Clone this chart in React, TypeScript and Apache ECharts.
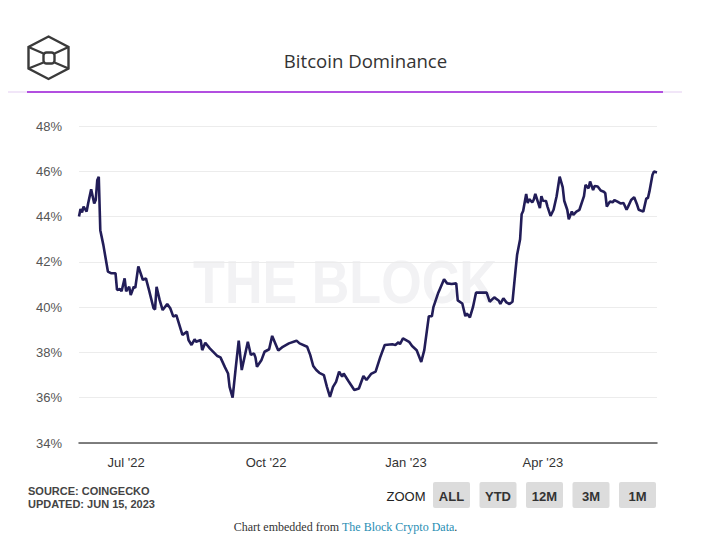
import React, { useEffect, useRef } from "react";
import * as echarts from "echarts";

const chartTitle = "Bitcoin Dominance";

const dates = [
  "2022-05-31", "2022-06-01", "2022-06-02", "2022-06-03", "2022-06-05", "2022-06-06", "2022-06-08", "2022-06-10",
  "2022-06-11", "2022-06-12", "2022-06-13", "2022-06-14", "2022-06-16", "2022-06-19", "2022-06-21", "2022-06-24",
  "2022-06-25", "2022-06-27", "2022-06-28", "2022-06-30", "2022-07-01", "2022-07-03", "2022-07-04", "2022-07-06",
  "2022-07-07", "2022-07-09", "2022-07-12", "2022-07-14", "2022-07-16", "2022-07-19", "2022-07-20", "2022-07-21",
  "2022-07-23", "2022-07-25", "2022-07-28", "2022-07-30", "2022-08-01", "2022-08-03", "2022-08-07", "2022-08-10",
  "2022-08-11", "2022-08-13", "2022-08-15", "2022-08-16", "2022-08-19", "2022-08-20", "2022-08-22", "2022-08-25",
  "2022-08-30", "2022-09-01", "2022-09-04", "2022-09-06", "2022-09-07", "2022-09-09", "2022-09-11", "2022-09-13",
  "2022-09-15", "2022-09-19", "2022-09-21", "2022-09-23", "2022-09-24", "2022-09-25", "2022-09-28", "2022-09-30",
  "2022-10-03", "2022-10-05", "2022-10-09", "2022-10-12", "2022-10-16", "2022-10-21", "2022-10-23", "2022-10-28",
  "2022-10-30", "2022-11-01", "2022-11-03", "2022-11-05", "2022-11-08", "2022-11-10", "2022-11-12", "2022-11-14",
  "2022-11-16", "2022-11-18", "2022-11-20", "2022-11-21", "2022-11-24", "2022-11-28", "2022-12-01", "2022-12-04",
  "2022-12-06", "2022-12-09", "2022-12-12", "2022-12-15", "2022-12-18", "2022-12-23", "2022-12-25", "2022-12-27",
  "2022-12-28", "2022-12-30", "2023-01-03", "2023-01-05", "2023-01-08", "2023-01-11", "2023-01-13", "2023-01-16",
  "2023-01-18", "2023-01-19", "2023-01-22", "2023-01-23", "2023-01-26", "2023-01-28", "2023-01-31", "2023-02-03",
  "2023-02-04", "2023-02-07", "2023-02-09", "2023-02-10", "2023-02-12", "2023-02-14", "2023-02-16", "2023-02-23",
  "2023-02-25", "2023-02-28", "2023-03-03", "2023-03-04", "2023-03-06", "2023-03-08", "2023-03-10", "2023-03-12",
  "2023-03-14", "2023-03-15", "2023-03-17", "2023-03-18", "2023-03-19", "2023-03-21", "2023-03-22", "2023-03-23",
  "2023-03-25", "2023-03-26", "2023-03-27", "2023-03-30", "2023-03-31", "2023-04-01", "2023-04-03", "2023-04-04",
  "2023-04-06", "2023-04-08", "2023-04-10", "2023-04-12", "2023-04-14", "2023-04-15", "2023-04-17", "2023-04-18",
  "2023-04-20", "2023-04-21", "2023-04-23", "2023-04-25", "2023-04-28", "2023-04-29", "2023-05-01", "2023-05-02",
  "2023-05-04", "2023-05-05", "2023-05-07", "2023-05-09", "2023-05-11", "2023-05-12", "2023-05-13", "2023-05-15",
  "2023-05-17", "2023-05-18", "2023-05-20", "2023-05-22", "2023-05-24", "2023-05-26", "2023-05-27", "2023-05-29",
  "2023-05-31", "2023-06-02", "2023-06-03", "2023-06-06", "2023-06-08", "2023-06-09", "2023-06-10", "2023-06-12",
  "2023-06-13", "2023-06-15",
];

const dominance = [
  44.0, 44.33, 44.18, 44.44, 44.22, 44.58, 45.2, 44.58,
  44.73, 45.6, 45.76, 43.4, 42.75, 41.57, 41.5, 41.5,
  40.76, 40.8, 40.7, 41.27, 40.7, 40.9, 40.53, 40.9,
  40.85, 41.8, 41.2, 41.27, 40.76, 39.95, 39.9, 40.9,
  40.32, 39.87, 40.14, 39.95, 39.58, 39.65, 38.77, 38.92,
  38.55, 38.33, 38.58, 38.47, 38.55, 38.1, 38.43, 38.18,
  37.84, 37.78, 37.34, 37.07, 36.48, 36.0, 37.3, 38.52,
  37.22, 38.47, 37.89, 37.96, 37.78, 37.37, 37.67, 38.03,
  38.14, 38.73, 38.08, 38.25, 38.4, 38.52, 38.4, 38.25,
  37.89, 37.4, 37.22, 37.1, 37.0, 36.48, 36.04, 36.48,
  36.7, 37.15, 36.93, 37.07, 36.75, 36.34, 36.41, 36.96,
  36.78, 37.05, 37.15, 37.78, 38.33, 38.36, 38.33, 38.45,
  38.36, 38.62, 38.47, 38.28, 38.1, 37.58, 38.1, 39.6,
  39.6, 40.0, 40.6, 40.76, 41.23, 41.05, 41.02, 41.05,
  40.3, 40.16, 39.6, 39.72, 39.55, 40.0, 40.64, 40.64,
  40.24, 40.43, 40.28, 40.14, 40.39, 40.21, 40.14, 40.24,
  41.64, 42.3, 43.0, 44.1, 44.25, 45.0, 44.6, 44.77,
  44.63, 44.75, 45.0, 44.37, 44.9, 44.7, 44.69, 44.44,
  44.03, 44.3, 44.9, 45.76, 45.3, 44.7, 44.3, 43.88,
  44.22, 44.07, 44.22, 44.3, 44.9, 45.4, 45.25, 45.55,
  45.17, 45.35, 45.33, 45.15, 45.1, 45.03, 44.44, 44.66,
  44.63, 44.73, 44.66, 44.58, 44.6, 44.3, 44.44, 44.73,
  44.85, 44.51, 44.3, 44.22, 44.81, 44.81, 45.1, 45.84,
  45.99, 45.95,
];

const xStart = "2022-05-31";
const xEnd = "2023-06-15";
const xTickDates = ["2022-07-01", "2022-10-01", "2023-01-01", "2023-04-01"];
const xTickLabels = ["Jul '22", "Oct '22", "Jan '23", "Apr '23"];
const yMin = 34;
const yMax = 48;
const yStep = 2;

const zoomLabel = "ZOOM";
const zoomButtons = ["ALL", "YTD", "12M", "3M", "1M"];
const sourceLines = ["SOURCE: COINGECKO", "UPDATED: JUN 15, 2023"];
const watermark = "THE BLOCK";
const footerLead = "Chart embedded from ";
const footerLink = "The Block Crypto Data";

function ts(s: string): number {
  const [y, m, d] = s.split("-").map(Number);
  return Date.UTC(y, m - 1, d);
}

export default function App() {
  const ref = useRef<HTMLDivElement>(null);

  useEffect(() => {
    if (!ref.current) return;
    const chart = echarts.init(ref.current, undefined, { renderer: "svg" });
    const tickTs = xTickDates.map(ts);
    const logoStroke = { stroke: "#3a3a3a", lineWidth: 2.4, fill: "none" };

    const buttonEls: any[] = [];
    zoomButtons.forEach((b, i) => {
      const x0 = 433 + i * 46.5;
      buttonEls.push({
        type: "rect",
        shape: { x: x0, y: 482, width: 37, height: 26, r: 2 },
        style: { fill: "#dcdcdc" },
      });
      buttonEls.push({
        type: "text",
        x: x0 + 18.5,
        y: 496,
        style: {
          text: b,
          fill: "#333",
          fontSize: 13,
          fontWeight: "bold",
          fontFamily: "Arial, 'Liberation Sans', sans-serif",
          align: "center",
          verticalAlign: "middle",
        },
      });
    });

    chart.setOption({
      animation: false,
      backgroundColor: "#ffffff",
      grid: { left: 79, right: 54, top: 126, bottom: 112, containLabel: false },
      xAxis: {
        type: "value",
        min: ts(xStart),
        max: ts(xEnd),
        axisLine: { show: true, lineStyle: { color: "#555", width: 1.5 } },
        axisTick: { show: false },
        splitLine: { show: false },
        axisLabel: {
          customValues: tickTs,
          margin: 13,
          color: "#333",
          fontSize: 13,
          fontFamily: "Arial, 'Liberation Sans', sans-serif",
          formatter: (v: number) => {
            const i = tickTs.indexOf(v);
            return i >= 0 ? xTickLabels[i] : "";
          },
        },
      },
      yAxis: {
        type: "value",
        min: yMin,
        max: yMax,
        interval: yStep,
        axisLine: { show: false },
        axisTick: { show: false },
        splitLine: { lineStyle: { color: "#ececec", width: 1 } },
        axisLabel: {
          formatter: "{value}%",
          margin: 17,
          color: "#555",
          fontSize: 13,
          fontFamily: "Arial, 'Liberation Sans', sans-serif",
        },
      },
      series: [
        {
          type: "line",
          data: dates.map((d, i) => [ts(d), dominance[i]]),
          showSymbol: false,
          symbol: "none",
          lineStyle: { color: "#221d58", width: 2.6 },
          z: 5,
        },
      ],
      graphic: [
        {
          type: "text",
          x: 345,
          y: 281,
          scaleX: 0.84,
          z: -1,
          style: {
            text: watermark,
            fill: "#f2f2f4",
            fontSize: 62,
            fontWeight: "bold",
            fontFamily: "Arial, 'Liberation Sans', sans-serif",
            align: "center",
            verticalAlign: "middle",
          },
        },
        {
          type: "polygon",
          shape: {
            points: [
              [48.5, 36.5], [68.5, 47], [68.5, 68.5], [48.5, 79], [28.5, 68.5], [28.5, 47],
            ],
          },
          style: logoStroke,
        },
        {
          type: "rect",
          shape: { x: 43.5, y: 52.5, width: 11, height: 11, r: 3 },
          style: logoStroke,
        },
        { type: "line", shape: { x1: 28.5, y1: 47, x2: 43.5, y2: 53.5 }, style: logoStroke },
        { type: "line", shape: { x1: 68.5, y1: 47, x2: 54.5, y2: 53.5 }, style: logoStroke },
        { type: "line", shape: { x1: 28.5, y1: 68.5, x2: 43.5, y2: 62.5 }, style: logoStroke },
        { type: "line", shape: { x1: 68.5, y1: 68.5, x2: 54.5, y2: 62.5 }, style: logoStroke },
        {
          type: "text",
          x: 365.5,
          y: 60,
          style: {
            text: chartTitle,
            fill: "#333",
            fontSize: 18.6,
            fontFamily: "'Open Sans', sans-serif",
            align: "center",
            verticalAlign: "middle",
          },
        },
        {
          type: "line",
          shape: { x1: 8, y1: 92, x2: 682, y2: 92 },
          style: { stroke: "#f1e6f8", lineWidth: 2 },
        },
        {
          type: "line",
          shape: { x1: 27, y1: 92, x2: 663, y2: 92 },
          style: { stroke: "#b24fe0", lineWidth: 2 },
        },
        {
          type: "text",
          x: 28,
          y: 491,
          style: {
            text: sourceLines[0],
            fill: "#444",
            fontSize: 11,
            fontWeight: "bold",
            fontFamily: "Arial, 'Liberation Sans', sans-serif",
            align: "left",
            verticalAlign: "middle",
          },
        },
        {
          type: "text",
          x: 28,
          y: 504,
          style: {
            text: sourceLines[1],
            fill: "#444",
            fontSize: 11,
            fontWeight: "bold",
            fontFamily: "Arial, 'Liberation Sans', sans-serif",
            align: "left",
            verticalAlign: "middle",
          },
        },
        {
          type: "text",
          x: 406,
          y: 496,
          style: {
            text: zoomLabel,
            fill: "#222",
            fontSize: 13,
            fontFamily: "Arial, 'Liberation Sans', sans-serif",
            align: "center",
            verticalAlign: "middle",
          },
        },
        ...buttonEls,
        {
          type: "text",
          x: 345.5,
          y: 527,
          style: {
            text: "{a|" + footerLead + "}{b|" + footerLink + "}{a|.}",
            align: "center",
            verticalAlign: "middle",
            rich: {
              a: { fill: "#333", fontSize: 12, fontFamily: "'Liberation Serif', 'Times New Roman', serif" },
              b: { fill: "#1f8db3", fontSize: 12, fontFamily: "'Liberation Serif', 'Times New Roman', serif" },
            },
          },
        },
      ],
    });
    return () => chart.dispose();
  }, []);

  return (
    <div
      ref={ref}
      style={{ position: "fixed", left: 0, top: 0, width: 711, height: 555 }}
    />
  );
}
